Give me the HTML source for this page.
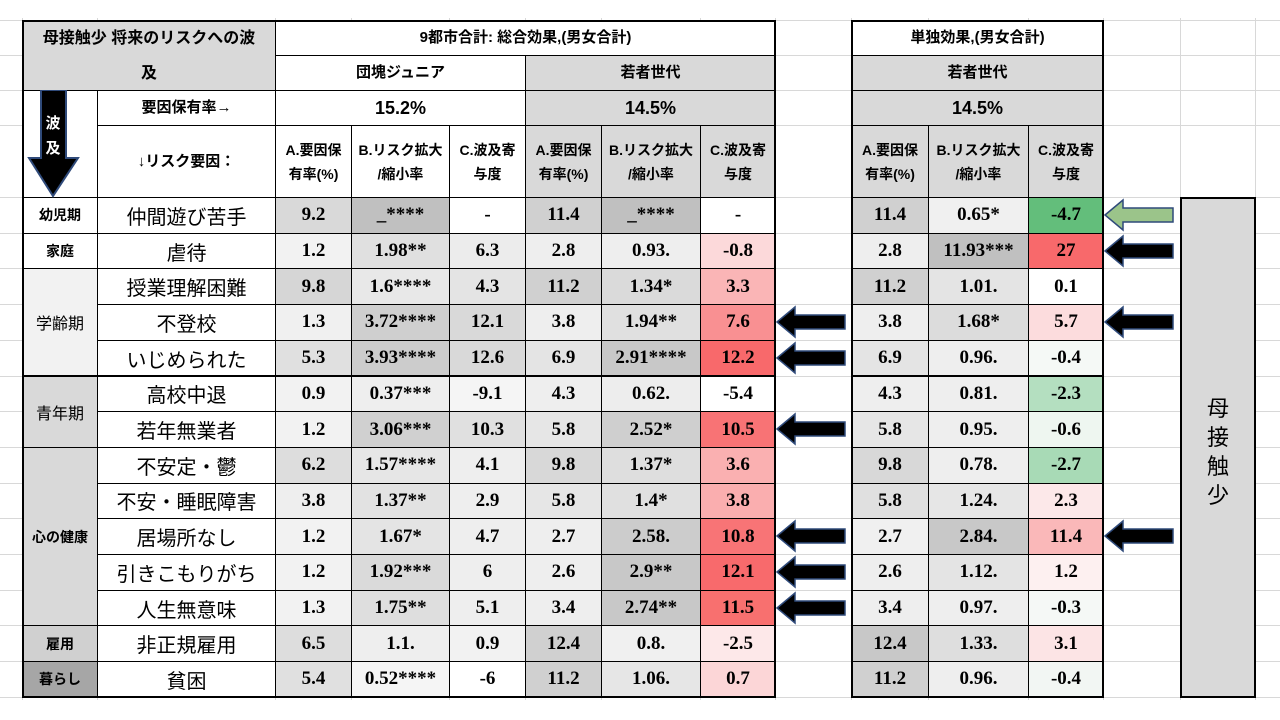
<!DOCTYPE html>
<html><head><meta charset="utf-8">
<style>
body{margin:0;width:1280px;height:720px;background:#fff;position:relative;overflow:hidden;font-family:"Liberation Sans","Noto Sans CJK JP",sans-serif;}
.c{position:absolute;box-sizing:border-box;border:1px solid #000;display:flex;align-items:center;justify-content:center;text-align:center;color:#000;}
.n{font-family:"Liberation Serif","Noto Serif CJK SC",serif;font-weight:bold;font-size:19px;}
.lab{font-size:20px;}
.h{font-size:15px;font-weight:bold;line-height:24px;}
.s{font-size:14px;font-weight:bold;line-height:24px;}
.g{position:absolute;background:#d8d8d8;}
</style></head><body>
<div id="grid"></div>
<div id="root"></div>
<script>
const factors=["仲間遊び苦手","虐待","授業理解困難","不登校","いじめられた","高校中退","若年無業者","不安定・鬱","不安・睡眠障害","居場所なし","引きこもりがち","人生無意味","非正規雇用","貧困"];
const a1=["9.2","1.2","9.8","1.3","5.3","0.9","1.2","6.2","3.8","1.2","1.2","1.3","6.5","5.4"];
const b1=["_****","1.98**","1.6****","3.72****","3.93****","0.37***","3.06***","1.57****","1.37**","1.67*","1.92***","1.75**","1.1.","0.52****"];
const c1=["-","6.3","4.3","12.1","12.6","-9.1","10.3","4.1","2.9","4.7","6","5.1","0.9","-6"];
const a2=["11.4","2.8","11.2","3.8","6.9","4.3","5.8","9.8","5.8","2.7","2.6","3.4","12.4","11.2"];
const b2=["_****","0.93.","1.34*","1.94**","2.91****","0.62.","2.52*","1.37*","1.4*","2.58.","2.9**","2.74**","0.8.","1.06."];
const c2=["-","-0.8","3.3","7.6","12.2","-5.4","10.5","3.6","3.8","10.8","12.1","11.5","-2.5","0.7"];
const a3=["11.4","2.8","11.2","3.8","6.9","4.3","5.8","9.8","5.8","2.7","2.6","3.4","12.4","11.2"];
const b3=["0.65*","11.93***","1.01.","1.68*","0.96.","0.81.","0.95.","0.78.","1.24.","2.84.","1.12.","0.97.","1.33.","0.96."];
const c3=["-4.7","27","0.1","5.7","-0.4","-2.3","-0.6","-2.7","2.3","11.4","1.2","-0.3","3.1","-0.4"];
const bgA1=["#d9d9d9","#f2f2f2","#d6d6d6","#f0f0f0","#e0e0e0","#f2f2f2","#f2f2f2","#dddddd","#eeeeee","#f2f2f2","#f2f2f2","#f2f2f2","#dddddd","#e0e0e0"];
const bgB1=["#c0c0c0","#e0e0e0","#e8e8e8","#cfcfcf","#cccccc","#eeeeee","#d0d0d0","#e6e6e6","#e2e2e2","#e4e4e4","#dadada","#dedede","#eeeeee","#f5f5f5"];
const bgC1=["#ffffff","#ececec","#e4e4e4","#d9d9d9","#d9d9d9","#f5f5f5","#e0e0e0","#eeeeee","#eeeeee","#eeeeee","#eeeeee","#eeeeee","#f2f2f2","#ffffff"];
const bgA2=["#d0d0d0","#eeeeee","#d0d0d0","#eeeeee","#e4e4e4","#eeeeee","#e6e6e6","#d8d8d8","#e6e6e6","#eeeeee","#eeeeee","#eeeeee","#d0d0d0","#d0d0d0"];
const bgB2=["#c0c0c0","#eeeeee","#dadada","#e0e0e0","#c8c8c8","#ededed","#cfcfcf","#dedede","#e0e0e0","#cccccc","#c8c8c8","#c8c8c8","#f0f0f0","#e6e6e6"];
const bgC2=["#ffffff","#fcd9da","#fab5b6","#f99092","#f8696b","#ffffff","#f87375","#fab0b1","#faaeaf","#f87476","#f86a6c","#f8706f","#fde8e9","#fcd6d7"];
const bgA3=["#d0d0d0","#eeeeee","#d0d0d0","#eeeeee","#e4e4e4","#eeeeee","#e6e6e6","#d8d8d8","#e0e0e0","#f0f0f0","#eeeeee","#eeeeee","#c8c8c8","#d0d0d0"];
const bgB3=["#f0f0f0","#c0c0c0","#e4e4e4","#dcdcdc","#eeeeee","#eeeeee","#eeeeee","#eeeeee","#e6e6e6","#c8c8c8","#e4e4e4","#eeeeee","#dedede","#eeeeee"];
const bgC3=["#63be7b","#f8696b","#ffffff","#fcdcdd","#f5f9f6","#b4dfc0","#eef6f0","#a8dab6","#fce8e9","#fab8b9","#fdf0f0","#f5f8f6","#fce4e5","#f2f6f3"];
const periods=["幼児期","家庭","学齢期","青年期","心の健康","雇用","暮らし"];
const periodStart=[0,1,2,5,7,12,13];
const periodSpan=[1,1,3,2,5,1,1];
const periodBg=["#ffffff","#ffffff","#f2f2f2","#d9d9d9","#d9d9d9","#d0d0d0","#a6a6a6"];
const periodBold=[1,1,0,0,1,1,1];
const midArrows=[3,4,6,9,10,11];
const rightArrows=[0,1,3,9];

const root=document.getElementById('root');
const grid=document.getElementById('grid');
const X=[22,97,275,351,449,525,601,700,775,851,928,1028,1103,1180,1255];
const Y0=197,RH=35.7;
const ry=i=>Y0+i*RH;
function cell(x1,y1,x2,y2,txt,bg,cls,name){
  const d=document.createElement('div');
  d.className='c '+(cls||'');
  d.style.left=x1+'px';d.style.top=y1+'px';d.style.width=(x2-x1+1)+'px';d.style.height=(y2-y1+1)+'px';
  d.style.background=bg||'#fff';
  d.innerHTML=txt;
  
  
  root.appendChild(d);return d;
}
[20,55,90,125,197].concat(factors.map((f,i)=>ry(i+1))).forEach(y=>{const l=document.createElement('div');l.className='g';l.style.left='0px';l.style.top=Math.round(y)+'px';l.style.width='1280px';l.style.height='1px';

grid.appendChild(l);});
X.forEach(x=>{const l=document.createElement('div');l.className='g';l.style.left=x+'px';l.style.top='18px';l.style.width='1px';l.style.height='682px';

grid.appendChild(l);});

cell(22,20,275,90,'<div style="line-height:35px;font-size:16px;font-weight:bold">母接触少 将来のリスクへの波<br>及</div>','#d9d9d9','','table-title');
cell(275,20,775,55,'9都市合計: 総合効果,(男女合計)','#fff','h','total-effect-header');
cell(275,55,525,90,'団塊ジュニア','#fff','h','dankai-junior-header');
cell(525,55,775,90,'若者世代','#d9d9d9','h','young-generation-header');
cell(97,90,275,125,'要因保有率→','#fff','h','prevalence-label');
cell(275,90,525,125,'<span style="font-size:18px">15.2%</span>','#fff','h','prevalence-dankai');
cell(525,90,775,125,'<span style="font-size:18px">14.5%</span>','#d9d9d9','h','prevalence-young');
cell(97,125,275,197,'↓リスク要因：','#fff','h','risk-factor-label');
cell(22,90,97,197,'','#fff','','wave-arrow-cell');
cell(851,20,1103,55,'単独効果,(男女合計)','#fff','h','single-effect-header');
cell(851,55,1103,90,'若者世代','#d9d9d9','h','young-generation-header-2');
cell(851,90,1103,125,'<span style="font-size:18px">14.5%</span>','#d9d9d9','h','prevalence-young-2');
const subs=['A.要因保<br>有率(%)','B.リスク拡大<br>/縮小率','C.波及寄<br>与度'];
[[2,'#fff'],[5,'#d9d9d9'],[9,'#d9d9d9']].forEach(([s,bg])=>{for(let k=0;k<3;k++)cell(X[s+k],125,X[s+k+1],197,subs[k],bg,'s','subheader-'+'abc'[k]);});

periods.forEach((p,i)=>{cell(22,ry(periodStart[i]),97,ry(periodStart[i]+periodSpan[i]),p,periodBg[i],'', 'period-'+i).style.cssText+=';font-size:'+(periodBold[i]?'14px':'16px')+';font-weight:'+(periodBold[i]?'bold':'normal');});
const cols=[[a1,bgA1],[b1,bgB1],[c1,bgC1],[a2,bgA2],[b2,bgB2],[c2,bgC2]];
const cols3=[[a3,bgA3],[b3,bgB3],[c3,bgC3]];
factors.forEach((f,i)=>{
  cell(97,ry(i),275,ry(i+1),f,'#fff','lab','risk-factor-'+i);
  cols.forEach(([v,bg],k)=>cell(X[2+k],ry(i),X[3+k],ry(i+1),v[i],bg[i],'n','value-cell'));
  cols3.forEach(([v,bg],k)=>cell(X[9+k],ry(i),X[10+k],ry(i+1),v[i],bg[i],'n','single-value-cell'));
});
[[22,20,775,697],[851,20,1103,697]].forEach(([x1,y1,x2,y2])=>{const d=document.createElement('div');d.style.cssText=`position:absolute;left:${x1}px;top:${y1}px;width:${x2-x1+1}px;height:${y2-y1+1}px;border:2px solid #000;box-sizing:border-box;pointer-events:none`;

root.appendChild(d);});
const rp=cell(1180,197,1255,697,'<div style="font-size:22px;line-height:29px;margin-top:8px">母<br>接<br>触<br>少</div>','#d9d9d9','','side-label-panel');
rp.style.borderWidth='2px';

function arrow(x,y,fill,name){
  const s=document.createElementNS('http://www.w3.org/2000/svg','svg');
  s.setAttribute('width','72');s.setAttribute('height','34');
  s.style.cssText=`position:absolute;left:${x}px;top:${y}px`;
  s.innerHTML=`<polygon points="1,17 19,2 19,10 69,10 69,24 19,24 19,32" fill="${fill}" stroke="#2f4a7a" stroke-width="1.5"/>`;
  
  
  root.appendChild(s);
}
midArrows.forEach(i=>arrow(776,ry(i)+1,'#000','highlight-arrow'));
rightArrows.forEach(i=>arrow(1104,ry(i)+1,i===0?'#9bc48a':'#000','highlight-arrow-right'));
const da=document.createElementNS('http://www.w3.org/2000/svg','svg');
da.setAttribute('width','75');da.setAttribute('height','108');
da.style.cssText='position:absolute;left:22px;top:90px';
da.innerHTML='<polygon points="19,0 44,0 44,68 56,68 31,106 7,68 19,68" fill="#000" stroke="#2f4a7a" stroke-width="2"/><text x="31" y="38" fill="#fff" font-size="15" font-weight="bold" text-anchor="middle" font-family="Noto Sans CJK JP,sans-serif">波</text><text x="31" y="63" fill="#fff" font-size="15" font-weight="bold" text-anchor="middle" font-family="Noto Sans CJK JP,sans-serif">及</text>';


root.appendChild(da);
</script>
</body></html>
